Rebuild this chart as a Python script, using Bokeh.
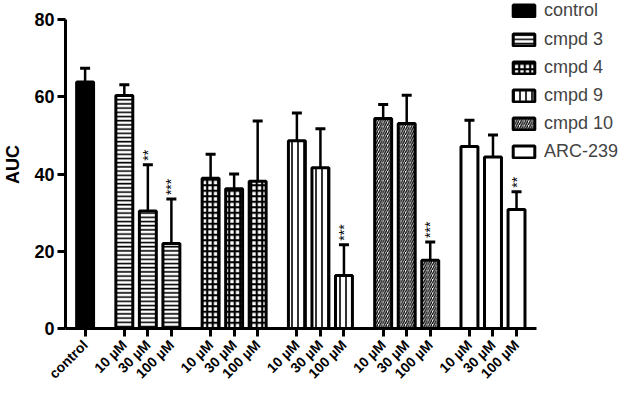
import math
from bokeh.plotting import figure
from bokeh.models import (ColumnDataSource, Whisker, TeeHead, Legend, LegendItem,
                          FixedTicker, Range1d)
from bokeh.core.properties import value
from bokeh.embed import file_html
from bokeh.resources import INLINE

# ---- data ----
control_label = "control"
control_mean = 63.8
control_sd = 3.6

groups = ["cmpd 3", "cmpd 4", "cmpd 9", "cmpd 10", "ARC-239"]
concentrations = ["10 µM", "30 µM", "100 µM"]
means = {
    "cmpd 3": [60.3, 30.4, 22.0],
    "cmpd 4": [38.9, 36.2, 38.1],
    "cmpd 9": [48.6, 41.6, 13.7],
    "cmpd 10": [54.4, 53.1, 17.7],
    "ARC-239": [47.1, 44.4, 30.8],
}
sds = {
    "cmpd 3": [2.8, 12.0, 11.5],
    "cmpd 4": [6.2, 3.8, 15.6],
    "cmpd 9": [7.2, 10.1, 8.0],
    "cmpd 10": [3.6, 7.3, 4.7],
    "ARC-239": [6.8, 5.7, 4.6],
}
stars = {
    "cmpd 3": ["", "**", "***"],
    "cmpd 4": ["", "", ""],
    "cmpd 9": ["", "", "***"],
    "cmpd 10": ["", "", "***"],
    "ARC-239": ["", "", "**"],
}
y_ticks = [0, 20, 40, 60, 80]

# ---- styles ----
styles = {
    "cmpd 3": dict(fill_color="white", hatch_pattern="horizontal_line", hatch_scale=4.2, hatch_weight=1.6),
    "cmpd 4": dict(fill_color="white", hatch_pattern="cross", hatch_scale=5.5, hatch_weight=2.2),
    "cmpd 9": dict(fill_color="white", hatch_pattern="vertical_line", hatch_scale=6, hatch_weight=1.6),
    "cmpd 10": dict(fill_color="white", hatch_pattern="right_diagonal_line", hatch_scale=4.5, hatch_weight=1.3),
    "ARC-239": dict(fill_color="white"),
}

FONT = "Liberation Sans"
bar_w = 0.72
group_start = 5.0 / 3.0
group_stride = 11.0 / 3.0
x_lo, x_hi_axis, x_hi = -0.833, 19.167, 22.667
y_lo, y_hi_axis, y_hi = 0, 80, 84.92

p = figure(width=618, height=390, output_backend="svg", toolbar_location=None,
           x_range=Range1d(x_lo, x_hi), y_range=Range1d(y_lo, y_hi))
p.min_border_left = 54
p.min_border_right = 0
p.min_border_top = 0
p.min_border_bottom = 62
p.outline_line_color = None
p.xgrid.visible = False
p.ygrid.visible = False
p.background_fill_color = "white"
p.border_fill_color = "white"

tick_pos = []
tick_labels = {}

# control bar
csrc = ColumnDataSource(dict(x=[0.0], top=[control_mean], up=[control_mean + control_sd]))
r_ctrl = p.vbar(x="x", top="top", width=bar_w, source=csrc, fill_color="black",
                line_color="black", line_width=3)
p.add_layout(Whisker(base="x", lower="top", upper="up", source=csrc, line_width=2.5,
                     upper_head=TeeHead(size=10, line_width=3), lower_head=None))
tick_pos.append(0.0)
tick_labels[0.0] = control_label

renderers = {}
star_x, star_y, star_t = [], [], []
for g, name in enumerate(groups):
    xs = [group_start + group_stride * g + i for i in range(len(concentrations))]
    tops = means[name]
    ups = [m + s for m, s in zip(means[name], sds[name])]
    src = ColumnDataSource(dict(x=xs, top=tops, up=ups))
    st = styles[name]
    r = p.vbar(x="x", top="top", width=bar_w, source=src, line_color="black",
               line_width=3, hatch_color="black", **st)
    renderers[name] = r
    p.add_layout(Whisker(base="x", lower="top", upper="up", source=src, line_width=2.5,
                         upper_head=TeeHead(size=10, line_width=3), lower_head=None))
    for x, u, s, c in zip(xs, ups, stars[name], concentrations):
        tick_pos.append(x)
        tick_labels[x] = c
        if s:
            star_x.append(x)
            star_y.append(u)
            star_t.append(s)

p.text(x=star_x, y=star_y, text=star_t, angle=math.pi / 2, text_align="left",
       text_baseline="middle", text_font=value(FONT), text_font_size="14px",
       text_color="black", y_offset=-4)

# axes
xa = p.xaxis[0]
xa.bounds = (x_lo, x_hi_axis)
xa.ticker = FixedTicker(ticks=tick_pos)
xa.major_label_overrides = tick_labels
xa.major_label_orientation = math.pi / 4
xa.major_label_text_font = FONT
xa.major_label_text_font_style = "bold"
xa.major_label_text_font_size = "14px"
xa.major_label_text_color = "black"
xa.axis_line_width = 3
xa.axis_line_color = "black"
xa.major_tick_line_width = 3
xa.major_tick_line_color = "black"
xa.major_tick_out = 8
xa.major_tick_in = 0
xa.minor_tick_line_color = None
xa.major_label_standoff = 6

ya = p.yaxis[0]
ya.bounds = (y_lo, y_hi_axis)
ya.ticker = FixedTicker(ticks=y_ticks)
ya.axis_label = "AUC"
ya.axis_label_text_font = FONT
ya.axis_label_text_font_style = "bold"
ya.axis_label_text_font_size = "18px"
ya.axis_label_text_color = "black"
ya.axis_label_standoff = 8
ya.major_label_text_font = FONT
ya.major_label_text_font_style = "bold"
ya.major_label_text_font_size = "18px"
ya.major_label_text_color = "black"
ya.axis_line_width = 3
ya.major_tick_line_width = 3
ya.major_tick_out = 8
ya.major_tick_in = 0
ya.minor_tick_line_color = None
ya.major_label_standoff = 3

# legends (inside the frame, top right)
common = dict(glyph_width=27, glyph_height=15, label_height=20, padding=0, margin=0,
              border_line_color=None, background_fill_alpha=0,
              label_text_font=FONT, label_text_font_size="18px", label_standoff=7)
leg1 = Legend(items=[LegendItem(label=control_label, renderers=[r_ctrl])],
              location=(445, 307), spacing=0, **common)
leg2 = Legend(items=[LegendItem(label=n, renderers=[renderers[n]]) for n in groups],
              location=(445, 166), spacing=7, **common)
p.add_layout(leg1)
p.add_layout(leg2)

open("out.html", "w").write(file_html(p, INLINE))
